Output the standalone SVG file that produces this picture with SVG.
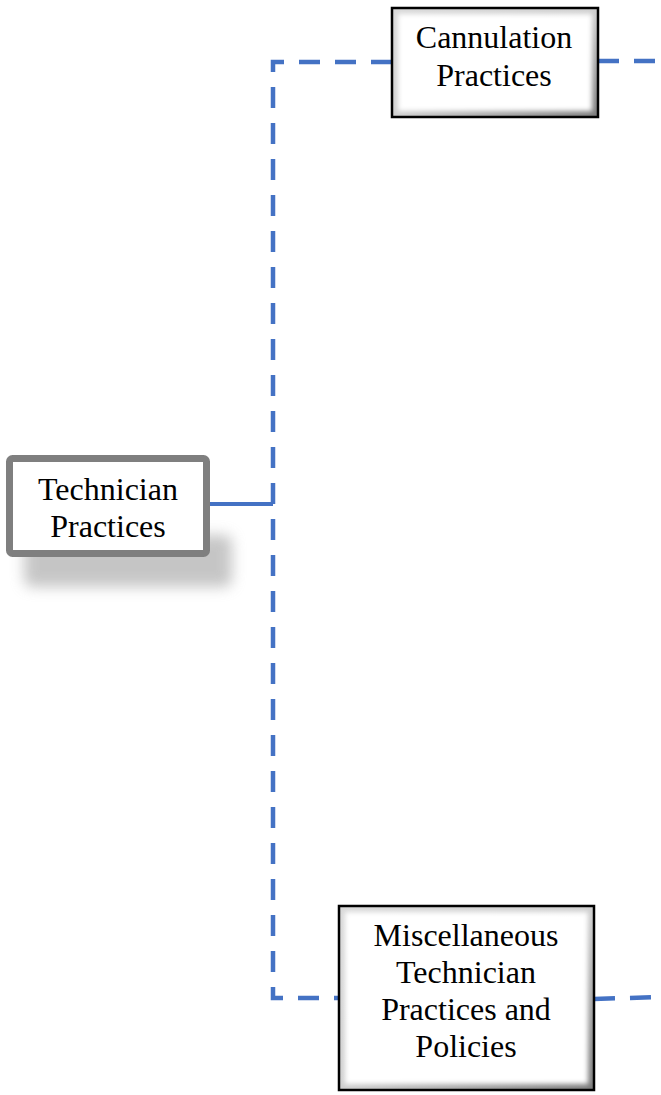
<svg xmlns="http://www.w3.org/2000/svg" width="661" height="1095" viewBox="0 0 661 1095">
<defs>
<style>
.lbl{font-family:"Liberation Serif","Times New Roman",serif;font-size:32px;fill:#000;text-anchor:middle}
.dash{fill:none;stroke:#4472C4;stroke-width:4.5;stroke-dasharray:21 15}
.solid{fill:none;stroke:#4472C4;stroke-width:4}
.bx{stroke:#000;stroke-width:2.5}
.inner{fill:#fff}
</style>
<linearGradient id="bev" x1="0" y1="0" x2="1" y2="1">
<stop offset="0" stop-color="#d9d9d9"/>
<stop offset="0.5" stop-color="#cfcfcf"/>
<stop offset="1" stop-color="#7a7a7a"/>
</linearGradient>
<filter id="soft" x="-10%" y="-10%" width="120%" height="120%"><feGaussianBlur stdDeviation="2.5"/></filter>
<filter id="shadow" x="-20%" y="-40%" width="140%" height="180%"><feGaussianBlur stdDeviation="7"/></filter>
</defs>
<g id="connectors">
<path class="dash" d="M392,62 H273 V998 H339"/>
<path class="dash" d="M598,61 H661"/>
<path class="dash" d="M594,999 L661,997"/>
<path class="solid" d="M210,504 H273"/>
</g>
<g id="technician">
<rect x="24" y="535" width="208" height="52" rx="8" fill="#a0a0a0" opacity="0.6" filter="url(#shadow)"/>
<rect x="9.5" y="458.5" width="197" height="95" rx="3" fill="#fff" stroke="#7f7f7f" stroke-width="7"/>
<text class="lbl" x="108" y="500">Technician</text>
<text class="lbl" x="108" y="537">Practices</text>
</g>
<g id="cannulation">
<rect class="bx" x="392" y="8" width="206" height="109" fill="url(#bev)"/>
<rect class="inner" x="398" y="14" width="194" height="97" filter="url(#soft)"/>
<text class="lbl" x="494" y="48">Cannulation</text>
<text class="lbl" x="494" y="86">Practices</text>
</g>
<g id="misc">
<rect class="bx" x="339" y="906" width="255" height="184" fill="url(#bev)"/>
<rect class="inner" x="345" y="912" width="243" height="172" filter="url(#soft)"/>
<text class="lbl" x="466" y="946">Miscellaneous</text>
<text class="lbl" x="466" y="983">Technician</text>
<text class="lbl" x="466" y="1020">Practices and</text>
<text class="lbl" x="466" y="1057">Policies</text>
</g>
</svg>
